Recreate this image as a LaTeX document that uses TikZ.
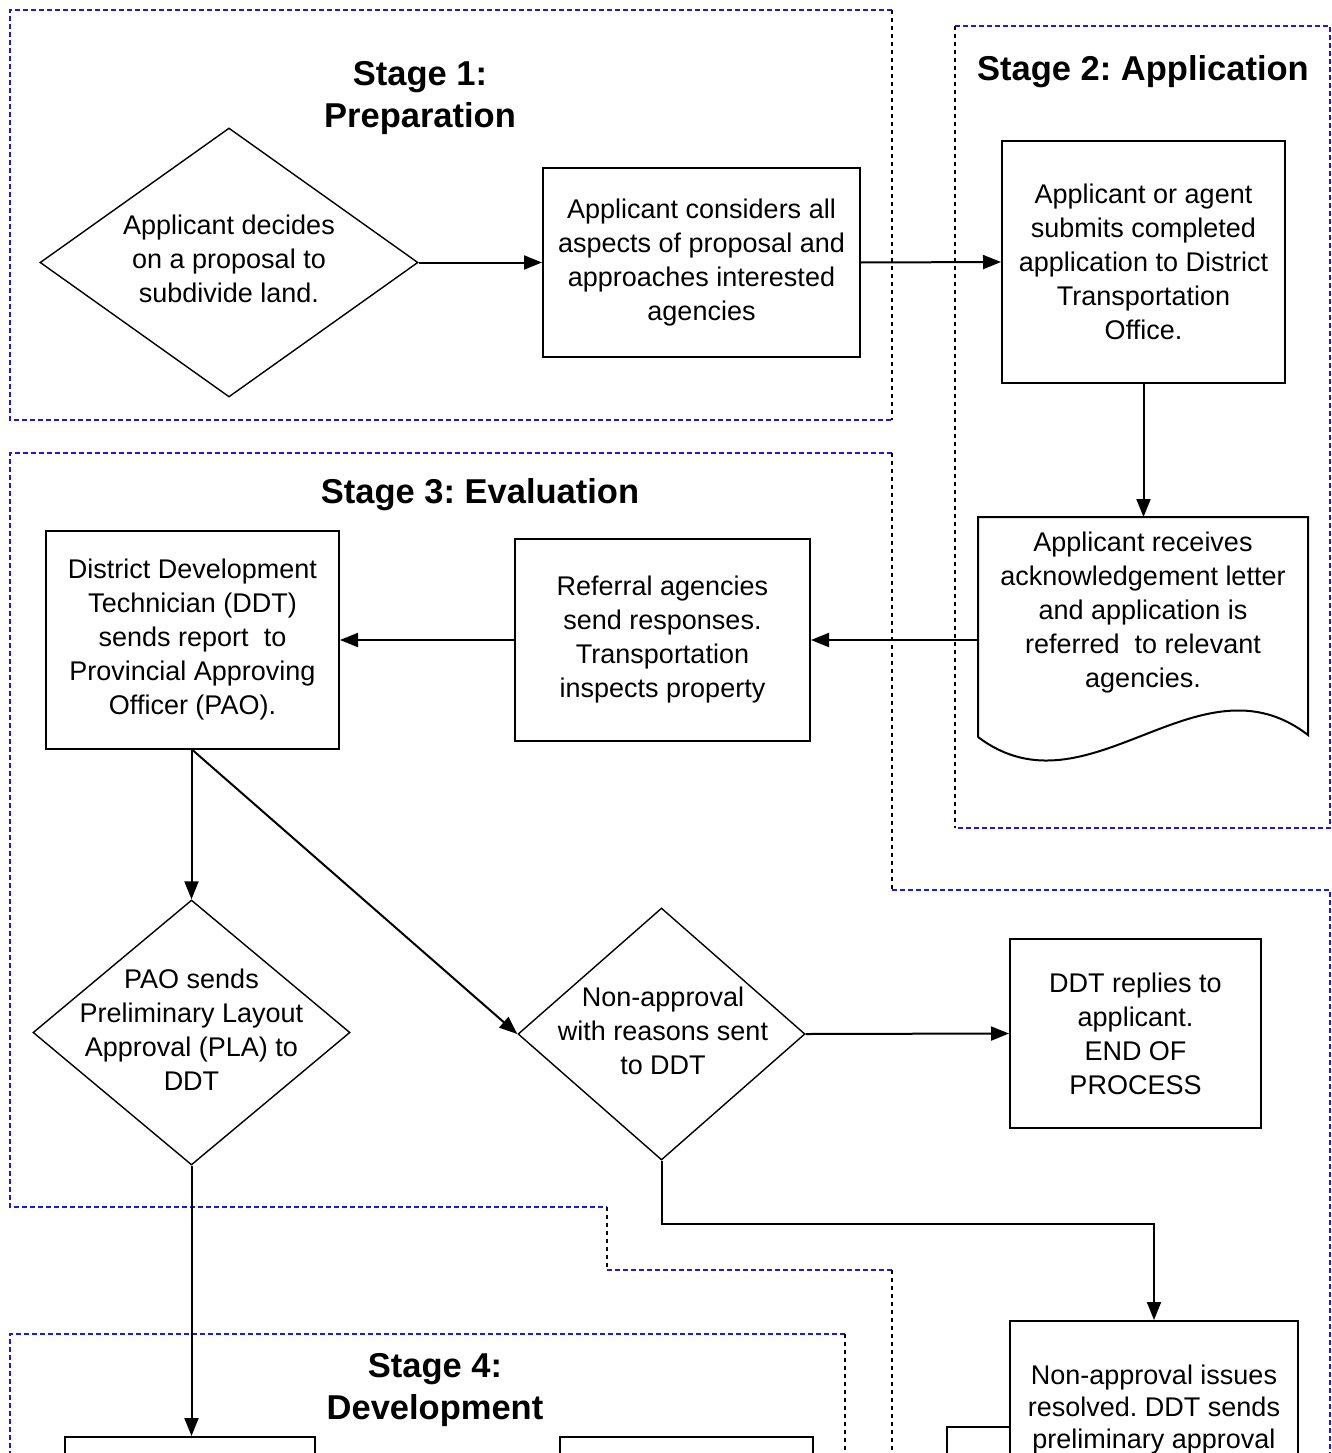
\documentclass[tikz,border=0pt]{standalone}
\usepackage{fontspec}
\setmainfont{Liberation Sans}
\usetikzlibrary{arrows.meta,shapes.geometric}
\definecolor{stageblue}{RGB}{25,25,225}
\frenchspacing
\begin{document}
\begin{tikzpicture}[x=1pt,y=-1pt,
  bodytext/.style={font=\fontsize{27}{34}\selectfont\frenchspacing, align=center, inner sep=0pt},
  stagetitle/.style={font=\fontsize{34.5}{42}\selectfont\bfseries\frenchspacing, align=center, inner sep=0pt},
  procbox/.style={draw, line width=2pt, inner sep=0pt, bodytext},
  decision/.style={draw, diamond, line width=1.4pt, inner sep=0pt},
  conn/.style={line width=2pt, -{Triangle[length=18pt,width=14pt]}},
  plainconn/.style={line width=2pt},
  bluedash/.style={stageblue, line width=1.6pt, dash pattern=on 5pt off 3pt},
  blackdash/.style={black, line width=1.6pt, dash pattern=on 4pt off 4pt},
]
\useasboundingbox (0,0) rectangle (1331,1453);
\clip (0,0) rectangle (1331,1453);
\fill[white] (0,0) rectangle (1331,1453);

% ---- stage outlines ----
\draw[bluedash] (892,10) -- (10,10) -- (10,420) -- (892,420);
\draw[blackdash] (892,10) -- (892,420);
\draw[bluedash] (955,26) -- (1330,26) -- (1330,828) -- (955,828);
\draw[blackdash] (955,26) -- (955,828);
\draw[bluedash] (892,453) -- (10,453) -- (10,1207) -- (607,1207);
\draw[blackdash] (892,453) -- (892,890);
\draw[bluedash] (892,890) -- (1330,890) -- (1330,1470);
\draw[blackdash] (607,1207) -- (607,1270);
\draw[bluedash] (607,1270) -- (892,1270);
\draw[blackdash] (892,1270) -- (892,1470);
\draw[bluedash] (845,1334) -- (10,1334) -- (10,1470);
\draw[blackdash] (845,1334) -- (845,1470);

% ---- titles ----
\node[stagetitle] (t1) at (420,98) {Stage 1:\\Preparation};
\node[stagetitle] (t2) at (1143,72) {Stage 2: Application};
\node[stagetitle] (t3) at (480,495) {Stage 3: Evaluation};
\node[stagetitle] (t4) at (435,1390) {Stage 4:\\Development};

% ---- stage 1 ----
\node[decision, minimum width=378pt, minimum height=269pt] (d1) at (229,262.5) {};
\node[bodytext] (d1t) at (229,259) {Applicant decides\\on a proposal to\\subdivide land.};
\node[procbox, minimum width=317pt, minimum height=189pt] (b2) at (701.5,262.5)
  {Applicant considers all\\aspects of proposal and\\approaches interested\\agencies};

% ---- stage 2 ----
\node[procbox, minimum width=283pt, minimum height=242pt] (b3) at (1143.5,262)
  {Applicant or agent\\submits completed\\application to District\\Transportation\\Office.};
\draw[line width=2pt] (978,737) -- (978,517) -- (1308,517) -- (1308,735)
  .. controls (1198,650) and (1088,820) .. (978,737);
\node[bodytext] (doc) at (1143,613)
  {Applicant receives\\acknowledgement letter\\and application is\\referred\ \ to relevant\\agencies.};
\coordinate (docN) at (1143.5,517);
\coordinate (docW) at (978,640);

% ---- stage 3 ----
\node[procbox, minimum width=295pt, minimum height=202pt] (ref) at (662.5,640)
  {Referral agencies\\send responses.\\Transportation\\inspects property};
\node[procbox, minimum width=293pt, minimum height=218pt] (ddt) at (192.5,640)
  {District Development\\Technician (DDT)\\sends report\ \ to\\Provincial Approving\\Officer (PAO).};
\node[decision, minimum width=317pt, minimum height=265pt] (pao) at (191.5,1032.5) {};
\node[bodytext] (paot) at (191.5,1030) {PAO sends\\Preliminary Layout\\Approval (PLA) to\\DDT};
\node[decision, minimum width=287pt, minimum height=252pt] (na) at (661.5,1034) {};
\node[bodytext] (nat) at (663,1031) {Non-approval\\with reasons sent\\to DDT};
\node[procbox, minimum width=251pt, minimum height=189pt] (rep) at (1135.5,1033.5)
  {DDT replies to\\applicant.\\END OF\\PROCESS};
\node[procbox, minimum width=288pt, minimum height=279pt] (nai) at (1154,1460.5) {};
\node[bodytext, font=\fontsize{27}{32}\selectfont\frenchspacing] (nait) at (1154,1410)
  {Non-approval issues\\resolved. DDT sends\\preliminary approval};
\coordinate (elb) at (947,1470);

% ---- stage 4 ----
\node[procbox, minimum width=250pt, minimum height=200pt] (sb1) at (190,1537) {};
\node[procbox, minimum width=253pt, minimum height=200pt] (sb2) at (686.5,1537) {};

% ---- connectors ----
\draw[conn] (d1.east) -- (b2.west);
\draw[conn] (b2.east) -- (b3.west);
\draw[conn] (b3.south) -- (docN);
\draw[conn] (docW) -- (ref.east);
\draw[conn] (ref.west) -- (ddt.east);
\draw[conn] (ddt.south -| pao.north) -- (pao.north);
\draw[conn] (ddt.south) -- (na.west);
\draw[conn] (na.east) -- (rep.west);
\draw[conn] (na.south) -- ++(0,63) -| (nai.north);
\draw[conn] (pao.south) -- (pao.south |- sb1.north);
\draw[plainconn] (elb) |- ([yshift=-107pt]nai.north west);
\end{tikzpicture}
\end{document}
